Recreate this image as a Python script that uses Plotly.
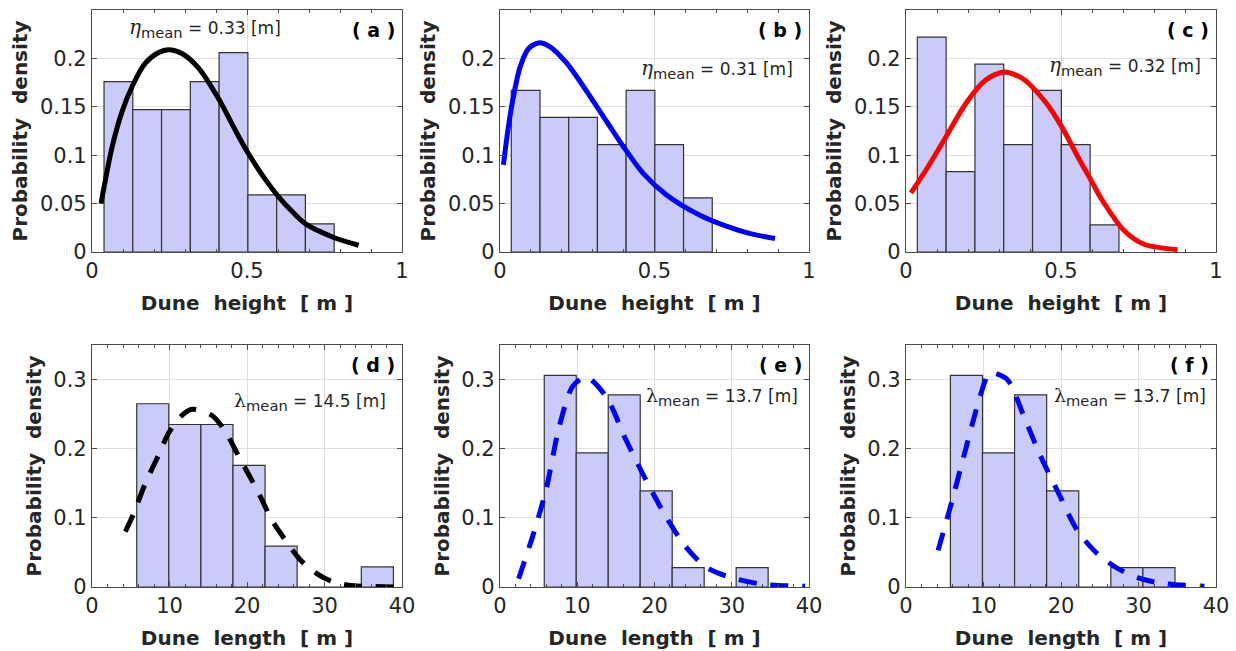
import plotly.graph_objects as go

# ---------------- data ----------------
# top row: dune height histograms (bin edges [m], probability per bin) + fitted pdf curve
a_edges = [0.0388, 0.1316, 0.2244, 0.3172, 0.4100, 0.5028, 0.5956, 0.6884, 0.7812]
a_heights = [0.176, 0.147, 0.147, 0.176, 0.206, 0.059, 0.059, 0.029]
a_fit_x = [0.029, 0.0645, 0.097, 0.131, 0.172, 0.215, 0.247, 0.290, 0.344, 0.409, 0.462,
           0.502, 0.559, 0.602, 0.645, 0.689, 0.780, 0.860]
a_fit_y = [0.050, 0.108, 0.145, 0.172, 0.195, 0.206, 0.209, 0.205, 0.190, 0.158, 0.126,
           0.103, 0.075, 0.057, 0.042, 0.029, 0.015, 0.007]

b_edges = [0.0366, 0.1295, 0.2224, 0.3153, 0.4082, 0.5011, 0.5940, 0.6869]
b_heights = [0.167, 0.139, 0.139, 0.111, 0.167, 0.111, 0.056]
b_fit_x = [0.011, 0.027, 0.043, 0.065, 0.092, 0.124, 0.162, 0.216, 0.270, 0.324, 0.399,
           0.464, 0.539, 0.647, 0.730, 0.810, 0.890]
b_fit_y = [0.090, 0.129, 0.160, 0.191, 0.210, 0.216, 0.212, 0.195, 0.171, 0.145, 0.109,
           0.081, 0.059, 0.038, 0.027, 0.019, 0.014]

c_edges = [0.0366, 0.1295, 0.2224, 0.3153, 0.4082, 0.5011, 0.5940, 0.6869]
c_heights = [0.222, 0.083, 0.194, 0.111, 0.167, 0.111, 0.028]
c_fit_x = [0.016, 0.065, 0.129, 0.194, 0.258, 0.317, 0.377, 0.452, 0.503, 0.560, 0.597,
           0.630, 0.704, 0.768, 0.876]
c_fit_y = [0.061, 0.085, 0.119, 0.154, 0.178, 0.186, 0.179, 0.154, 0.129, 0.095, 0.074,
           0.055, 0.022, 0.008, 0.0024]

# bottom row: dune length histograms (bin edges [m], probability per bin) + fitted pdf curve
d_edges = [5.77, 9.91, 14.05, 18.19, 22.33, 26.47, 30.61, 34.75, 38.89]
d_heights = [0.265, 0.235, 0.235, 0.176, 0.059, 0.0, 0.0, 0.029]
d_fit_x = [4.3, 5.38, 6.88, 8.6, 9.9, 11.4, 12.9, 15.48, 17.2, 18.93, 21.5, 23.2, 24.94,
           26.9, 29.05, 31.2, 33.8, 39.2]
d_fit_y = [0.080, 0.1065, 0.150, 0.191, 0.223, 0.246, 0.257, 0.248, 0.225, 0.189, 0.136,
           0.097, 0.068, 0.039, 0.019, 0.007, 0.002, 0.0]

e_edges = [5.73, 9.87, 14.01, 18.15, 22.29, 26.43, 30.57, 34.71]
e_heights = [0.306, 0.194, 0.278, 0.139, 0.028, 0.0, 0.028]
e_fit_x = [2.41, 4.22, 5.95, 7.67, 9.4, 11.1, 13.7, 16.3, 18.88, 21.47, 24.05, 26.64,
           29.66, 33.96, 39.5]
e_fit_y = [0.012, 0.073, 0.140, 0.232, 0.290, 0.304, 0.276, 0.213, 0.155, 0.102, 0.058,
           0.029, 0.0145, 0.004, 0.001]

f_edges = [5.73, 9.87, 14.01, 18.15, 22.29, 26.43, 30.57, 34.71]
f_heights = [0.306, 0.194, 0.278, 0.139, 0.0, 0.028, 0.028]
f_fit_x = [4.14, 5.73, 7.46, 9.18, 10.47, 10.9, 13.06, 15.2, 17.37, 19.5, 22.1, 24.7,
           27.3, 30.3, 33.3, 38.5]
f_fit_y = [0.053, 0.116, 0.189, 0.261, 0.305, 0.310, 0.300, 0.247, 0.189, 0.140, 0.082,
           0.048, 0.027, 0.012, 0.005, 0.001]

panel_labels = ["( a )", "( b )", "( c )", "( d )", "( e )", "( f )"]
mean_values = ["0.33", "0.31", "0.32", "14.5", "13.7", "13.7"]
ETA = "<span style='font-family:DejaVu Serif;font-size:20px'><i>η</i></span>"
LAM = "<span style='font-family:DejaVu Serif;font-size:19px'>λ</span>"
symbols = [ETA, ETA, ETA, LAM, LAM, LAM]
mean_texts = [s + "<sub>mean</sub><span style='font-size:17px'> = " + v + " [m]</span>"
              for s, v in zip(symbols, mean_values)]
mean_pos = [(0.113, 0.2315), (0.449, 0.189), (0.454, 0.192),
            (18.0, 0.269), (18.7, 0.276), (18.8, 0.276)]
fit_colors = ["black", "#0000FF", "#FF0000", "black", "#0000FF", "#0000FF"]
fit_dash = ["solid", "solid", "solid", "18px,14px", "18px,14px", "18px,14px"]
NB = "\u00a0"
x_titles = ["Dune" + NB + " height" + NB + " [ m ]"] * 3 + ["Dune" + NB + " length" + NB + " [ m ]"] * 3
y_title = "Probability" + NB + " density"

panels = [
    (a_edges, a_heights, a_fit_x, a_fit_y),
    (b_edges, b_heights, b_fit_x, b_fit_y),
    (c_edges, c_heights, c_fit_x, c_fit_y),
    (d_edges, d_heights, d_fit_x, d_fit_y),
    (e_edges, e_heights, e_fit_x, e_fit_y),
    (f_edges, f_heights, f_fit_x, f_fit_y),
]

# ---------------- layout geometry ----------------
W, H = 1236, 651
x_px = [(92, 402), (500, 809), (906, 1216)]
y_px = [(10, 252), (345, 587)]

FONT = "DejaVu Sans"
TXT = "#262626"
GRID = "#DFDFDF"
AX = "#4D4D4D"

fig = go.Figure()
layout = dict(width=W, height=H, margin=dict(l=0, r=0, t=0, b=0, autoexpand=False),
              paper_bgcolor="white", plot_bgcolor="white", showlegend=False,
              font=dict(family=FONT, color=TXT, size=20), annotations=[])

for i, (edges, heights, fx, fy) in enumerate(panels):
    row, col = divmod(i, 3)
    n = "" if i == 0 else str(i + 1)
    xa, ya = "x" + n, "y" + n
    centers = [(edges[k] + edges[k + 1]) / 2 for k in range(len(heights))]
    widths = [edges[k + 1] - edges[k] for k in range(len(heights))]
    fig.add_trace(go.Bar(x=centers, y=heights, width=widths, xaxis=xa, yaxis=ya,
                         marker=dict(color="#CBCBFA", line=dict(color="#333333", width=1.2))))
    fig.add_trace(go.Scatter(x=fx, y=fy, mode="lines", xaxis=xa, yaxis=ya,
                             line=dict(color=fit_colors[i], width=5, shape="spline",
                                       smoothing=0.8, dash=fit_dash[i])))

    x0, x1 = x_px[col]
    y0, y1 = y_px[row]
    top = row == 0
    xrange = [0, 1] if top else [0, 40]
    xticks = [0, 0.5, 1] if top else [0, 10, 20, 30, 40]
    yrange = [0, 0.25] if top else [0, 0.35]
    yticks = [0, 0.05, 0.1, 0.15, 0.2] if top else [0, 0.1, 0.2, 0.3]
    common = dict(showline=True, linecolor=AX, linewidth=1.2, mirror="ticks",
                  ticks="inside", ticklen=5, tickcolor=AX, showgrid=True,
                  gridcolor=GRID, gridwidth=1, zeroline=False, automargin=False,
                  tickfont=dict(family=FONT, size=21, color=TXT))
    layout["xaxis" + n] = dict(domain=[x0 / W, x1 / W], anchor=ya, range=xrange,
                               tickvals=xticks,
                               minor=dict(ticks="inside", ticklen=3, tickcolor=AX,
                                          dtick=0.1 if top else 2, showgrid=False),
                               title=dict(text="<b>" + x_titles[i] + "</b>", standoff=13,
                                          font=dict(family=FONT, size=20, color=TXT)),
                               **common)
    layout["yaxis" + n] = dict(domain=[1 - y1 / H, 1 - y0 / H], anchor=xa, range=yrange,
                               tickvals=yticks,
                               title=dict(text="<b>" + y_title + "</b>", standoff=6,
                                          font=dict(family=FONT, size=20, color=TXT)),
                               **common)
    # panel label
    layout["annotations"].append(dict(
        text="<b>" + panel_labels[i] + "</b>", xref=xa + " domain", yref=ya + " domain",
        x=0.985, y=1 - 20 / 242, xanchor="right", yanchor="middle", showarrow=False,
        font=dict(family=FONT, size=19, color="black")))
    # mean annotation
    mx, my = mean_pos[i]
    layout["annotations"].append(dict(
        text=mean_texts[i], xref=xa, yref=ya, x=mx, y=my, xanchor="left",
        yanchor="middle", showarrow=False, font=dict(family=FONT, size=21, color=TXT)))

fig.update_layout(**layout)
fig.write_html("out.html", config={"displayModeBar": False},
               post_script="document.body.style.margin='0';")
